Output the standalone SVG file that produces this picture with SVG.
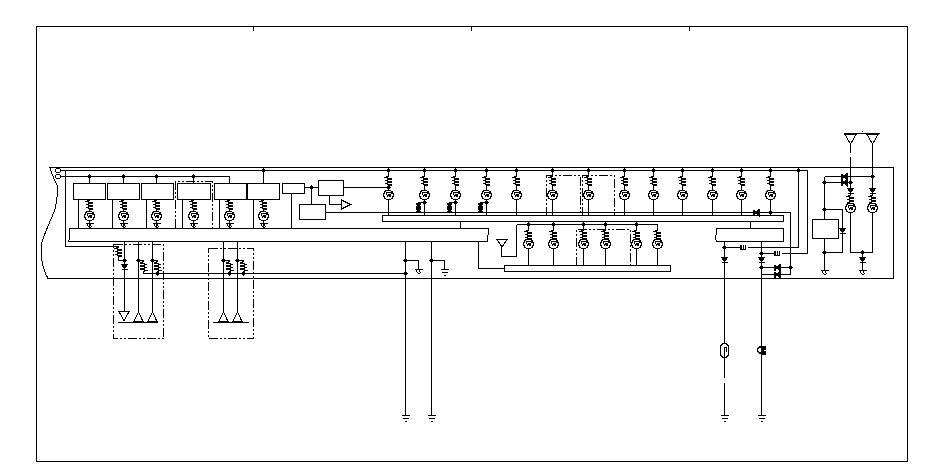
<svg xmlns="http://www.w3.org/2000/svg" width="950" height="475" viewBox="0 0 950 475">
<style>
svg{background:#fff}
path,rect,circle{fill:none;stroke:#000;stroke-width:1;shape-rendering:crispEdges}
.k{fill:#000}
.w{fill:#fff}
.n{fill:#fff;stroke:none}
.b{stroke-width:1.4}
.dd{stroke-dasharray:9 2 2 2 2 2}
</style>
<defs>
<g id="q"><circle r="4.800" class="w b"/><path d="M-3-2.500H3M-2-2L-1 1.500L0.500-1L1.500 1.500L3-2"/></g>
<g id="c"><rect class="n" x="-4" y="-5" width="8" height="10"/><path d="M0-5L-3-3.500L3-2L-3-0.500L3 1L-3 2.500L3 4L0 5"/></g>
<g id="dv"><path class="k" d="M-3-2.500H3L0 2Z"/><path class="b" d="M-3 2.500H3"/></g>
<g id="db"><path class="k" d="M-2-4.500H2L1-1H2V2H1L2 4.500H-2L-1 2H-2V-1H-1Z"/></g>
<g id="dl"><path class="k" d="M2.500-3V3L-1.500 0Z"/><path class="b" d="M-2.500-3V3"/></g>
<g id="g"><path d="M-4 0H4M-3 3H3M-1 6H1"/></g>
<g id="t"><path d="M-4 0H4M-3 0L-1 4M0 0L2 4M-1 4H1"/></g>
<circle id="d" r="1.600" class="k"/>
<g id="rh"><rect class="n" x="-4" y="-1" width="8" height="2"/><path d="M-3.500-2.500V1.500H-2M-2-2.500V1.500H0M0-2.500V1.500H2M2-2.500V1.500"/></g>
</defs>
<g id="frame">
<rect x="36.500" y="26.500" width="871" height="435"/>
<path d="M253.500 26V31M471.500 26V31M689.500 26V31"/>
<path d="M50 167.500H893.500V278.500H48C44 272 41 260 41 247C42 238 50 222 54 212C57 204 58 190 57 185C54 180 52 174 50 167.500Z"/>
<circle cx="58" cy="170.500" r="2.500"/><circle cx="58" cy="176.500" r="2.500"/>
</g>
<g id="connectors">
<path d="M61 170.500H807.500V253.500H761.500M61 176.500H229.500V183"/>
<path d="M65.500 170.500V246.500H118.500V260.500H124.500"/>
<path d="M89.500 176.500V183M123.500 176.500V183M156.500 176.500V183M193.500 176.500V183M263.500 170.500V183"/>
<path d="M78.500 199V228M112.500 199V228M146.500 199V228M182.500 199V228M219.500 199V228M253.500 199V228"/>
<path d="M89.500 199V228M123.500 199V228M156.500 199V228M193.500 199V228M229.500 199V228M263.500 199V228"/>
<path d="M291.500 193V228M304 187.500H318M311.500 187.500V204M343 187.500H388.500M329.500 195V204.500H341M325 212.500H790.500V274.500H761.500M761.500 267.500H790.500"/>
<path d="M388.500 170.500V215M424.500 170.500V215M455.500 170.500V215M486.500 170.500V215M516.500 170.500V215M552.500 170.500V215M588.500 170.500V215M624.500 170.500V215M653.500 170.500V215M682.500 170.500V215M712.500 170.500V215M741.500 170.500V215M770.500 170.500V212"/>
<path d="M424.500 202.500H418.500V212M455.500 202.500H449.500V212M486.500 202.500H480.500V212"/>
<path d="M460.500 222V228M750.500 222V228M478.500 241V268.500H504"/>
<path d="M657.500 224.500V265M516.500 224.500H657.500M516.500 224.500V256.500H501.500V247M528.500 224.500V265M553.500 224.500V265M583.500 224.500V265M605.500 224.500V265M636.500 224.500V265"/>
<path d="M798.500 170.500V247.500H724.500M724.500 241V378M724.500 383V415M761.500 241V415"/>
<path d="M405.500 241V415M431.500 241V415M405.500 260.500H418.500V269M431.500 260.500H444.500V269M143.500 273.500H405.500"/>
<path d="M124.500 241V311M138.500 241V311M152.500 241V311M138.500 260.500H143.500V273.500M152.500 260.500H157.500V273.500M223.500 241V311M237.500 241V311M223.500 260.500H229.500V273.500M237.500 260.500H243.500V273.500"/>
<path d="M824.500 176.500V219M824.500 238V270M824.500 176.500H872.500M824.500 182.500H850.500M824.500 209.500H842.500V252.500H824.500"/>
<path d="M850.500 144V153M850.500 157V252.500H872.500V144M862.500 252.500V270"/>
<path d="M118 322.500H158M213 322.500H249M844 133.500H880M862 131.500H863"/>
<path class="dd" d="M175.500 228V181.500H212.500V228H175.500Z"/>
<path class="dd" d="M546.500 216V175.500H580.500V216H546.500Z"/>
<path class="dd" d="M582.500 216V175.500H614.500V216H582.500Z"/>
<path class="dd" d="M576.500 266V229.500H630.500V266H576.500Z"/>
<path class="dd" d="M113.500 244.500H163.500V338.500H113.500Z"/>
<path class="dd" d="M208.500 248.500H253.500V338.500H208.500Z"/>
</g>
<g id="bus-main"><path class="w" d="M69.500 228.500H488.500L489 233L487 237L487.500 241.500H68.500L69.500 238Z"/></g>
<g id="bus-main-r"><path class="w" d="M716.500 228.500H783.500V241.500H717L715 238L717 232Z"/></g>
<rect id="bus-top" class="w" x="382.500" y="215.500" width="401" height="6"/>
<rect id="bus-low" class="w" x="504.500" y="265.500" width="166" height="6"/>
<g id="box-1"><rect class="w" x="73.500" y="183.500" width="32" height="16"/><use href="#d" x="89.500" y="176.500"/></g>
<g id="box-2"><rect class="w" x="107.500" y="183.500" width="32" height="16"/><use href="#d" x="123.500" y="176.500"/></g>
<g id="box-3"><rect class="w" x="141.500" y="183.500" width="32" height="16"/><use href="#d" x="156.500" y="176.500"/></g>
<g id="box-4"><rect class="w" x="177.500" y="183.500" width="33" height="16"/><use href="#d" x="193.500" y="176.500"/></g>
<g id="box-5"><rect class="w" x="214.500" y="183.500" width="32" height="16"/></g>
<g id="box-6"><rect class="w" x="247.500" y="183.500" width="32" height="16"/><use href="#d" x="263.500" y="170.500"/></g>
<g id="box-a"><rect class="w" x="282.500" y="183.500" width="22" height="10"/></g>
<g id="box-b"><rect class="w" x="318.500" y="180.500" width="25" height="15"/><use href="#d" x="311.500" y="187.500"/></g>
<g id="box-c"><rect class="w" x="299.500" y="204.500" width="26" height="15"/></g>
<path id="amp" class="w" d="M341.500 200L350.500 204.500L341.500 209Z"/>
<g id="box-r"><rect class="w" x="812.500" y="219.500" width="26" height="19"/></g>
<g id="left-row">
<use href="#c" x="89.500" y="205"/><use href="#q" x="89.500" y="216"/><use href="#t" x="89.500" y="223"/>
<use href="#c" x="123.500" y="205"/><use href="#q" x="123.500" y="216"/><use href="#t" x="123.500" y="223"/>
<use href="#c" x="156.500" y="205"/><use href="#q" x="156.500" y="216"/><use href="#t" x="156.500" y="223"/>
<use href="#c" x="193.500" y="205"/><use href="#q" x="193.500" y="216"/><use href="#t" x="193.500" y="223"/>
<use href="#c" x="229.500" y="205"/><use href="#q" x="229.500" y="216"/><use href="#t" x="229.500" y="223"/>
<use href="#c" x="263.500" y="205"/><use href="#q" x="263.500" y="216"/><use href="#t" x="263.500" y="223"/>
</g>
<g id="top-row">
<use href="#d" x="388.500" y="170.500"/><use href="#c" x="388.500" y="181"/><use href="#d" x="388.500" y="187.500"/><use href="#q" x="388.500" y="195"/>
<use href="#d" x="424.500" y="170.500"/><use href="#c" x="424.500" y="181"/><use href="#q" x="424.500" y="195"/><use href="#d" x="424.500" y="202.500"/><use href="#db" x="418.500" y="207.500"/>
<use href="#d" x="455.500" y="170.500"/><use href="#c" x="455.500" y="181"/><use href="#q" x="455.500" y="195"/><use href="#d" x="455.500" y="202.500"/><use href="#db" x="449.500" y="207.500"/>
<use href="#d" x="486.500" y="170.500"/><use href="#c" x="486.500" y="181"/><use href="#q" x="486.500" y="195"/><use href="#d" x="486.500" y="202.500"/><use href="#db" x="480.500" y="207.500"/>
<use href="#d" x="516.500" y="170.500"/><use href="#c" x="516.500" y="181"/><use href="#q" x="516.500" y="195"/>
<use href="#d" x="552.500" y="170.500"/><use href="#c" x="552.500" y="181"/><use href="#q" x="552.500" y="195"/>
<use href="#d" x="588.500" y="170.500"/><use href="#c" x="588.500" y="181"/><use href="#q" x="588.500" y="195"/>
<use href="#d" x="624.500" y="170.500"/><use href="#c" x="624.500" y="181"/><use href="#q" x="624.500" y="195"/>
<use href="#d" x="653.500" y="170.500"/><use href="#c" x="653.500" y="181"/><use href="#q" x="653.500" y="195"/>
<use href="#d" x="682.500" y="170.500"/><use href="#c" x="682.500" y="181"/><use href="#q" x="682.500" y="195"/>
<use href="#d" x="712.500" y="170.500"/><use href="#c" x="712.500" y="181"/><use href="#q" x="712.500" y="195"/>
<use href="#d" x="741.500" y="170.500"/><use href="#c" x="741.500" y="181"/><use href="#q" x="741.500" y="195"/>
<use href="#d" x="770.500" y="170.500"/><use href="#c" x="770.500" y="181"/><use href="#q" x="770.500" y="195"/><use href="#d" x="770.500" y="212.500"/>
<use href="#dl" x="756.500" y="212.500"/>
</g>
<g id="low-row">
<path class="w" d="M497 239.500H507L502 247Z"/>
<use href="#d" x="528.500" y="224.500"/><use href="#c" x="528.500" y="235"/><use href="#q" x="528.500" y="244"/>
<use href="#d" x="553.500" y="224.500"/><use href="#c" x="553.500" y="235"/><use href="#q" x="553.500" y="244"/>
<use href="#d" x="583.500" y="224.500"/><use href="#c" x="583.500" y="235"/><use href="#q" x="583.500" y="244"/>
<use href="#d" x="605.500" y="224.500"/><use href="#c" x="605.500" y="235"/><use href="#q" x="605.500" y="244"/>
<use href="#d" x="636.500" y="224.500"/><use href="#c" x="636.500" y="235"/><use href="#q" x="636.500" y="244"/>
<use href="#c" x="657.500" y="235"/><use href="#q" x="657.500" y="244"/>
</g>
<g id="right-lower">
<use href="#d" x="798.500" y="170.500"/>
<use href="#d" x="724.500" y="247.500"/><use href="#rh" x="743.500" y="247.500"/><use href="#d" x="761.500" y="253.500"/><use href="#rh" x="777.500" y="253.500"/>
<use href="#dv" x="724.500" y="260"/><use href="#dv" x="761.500" y="260"/>
<use href="#d" x="761.500" y="267.500"/><use href="#d" x="790.500" y="267.500"/>
<use href="#dl" x="777.500" y="267.500"/><use href="#dl" x="777.500" y="274.500"/>
<rect class="w b" x="720.500" y="343.500" width="8" height="14" rx="4"/><path d="M724.500 358V347H726.500V352"/>
<circle class="w b" cx="760.500" cy="350" r="3"/><path class="k" d="M761.500 346H765.500V349H763.500V351H765.500V354H761.500Z"/>
<use href="#g" x="724.500" y="415"/><use href="#g" x="761.500" y="415"/>
</g>
<g id="grounds">
<use href="#d" x="405.500" y="260.500"/><use href="#d" x="431.500" y="260.500"/><use href="#d" x="405.500" y="273.500"/>
<use href="#t" x="418.500" y="269"/><use href="#g" x="444.500" y="269"/>
<use href="#g" x="405.500" y="415"/><use href="#g" x="431.500" y="415"/>
</g>
<g id="lower-a">
<use href="#c" x="118.500" y="252"/><use href="#d" x="124.500" y="260.500"/><use href="#dv" x="124.500" y="267"/>
<use href="#d" x="138.500" y="260.500"/><use href="#d" x="152.500" y="260.500"/><use href="#c" x="143.500" y="266.500"/><use href="#c" x="157.500" y="266.500"/><use href="#d" x="157.500" y="273.500"/>
<path class="w" d="M119 311.500H129L124 321Z"/><path class="w" d="M134 321.500H143L138.500 312Z"/><path class="w" d="M148 321.500H157L152.500 312Z"/>
</g>
<g id="lower-b">
<use href="#d" x="223.500" y="260.500"/><use href="#d" x="237.500" y="260.500"/><use href="#c" x="229.500" y="266.500"/><use href="#c" x="243.500" y="266.500"/><use href="#d" x="229.500" y="273.500"/><use href="#d" x="243.500" y="273.500"/>
<path class="w" d="M219 321.500H228L223.500 312Z"/><path class="w" d="M233 321.500H242L237.500 312Z"/>
</g>
<g id="right-unit">
<use href="#d" x="824.500" y="182.500"/><use href="#d" x="824.500" y="209.500"/><use href="#d" x="824.500" y="252.500"/><use href="#d" x="850.500" y="182.500"/><use href="#d" x="872.500" y="176.500"/><use href="#d" x="862.500" y="252.500"/>
<use href="#dl" x="844.500" y="176.500"/><use href="#dl" x="844.500" y="182.500"/>
<use href="#dv" x="842.500" y="231"/>
<use href="#t" x="824.500" y="270"/><use href="#t" x="862.500" y="270"/><use href="#dv" x="862.500" y="260"/>
<use href="#dv" x="850.500" y="191"/><use href="#c" x="850.500" y="200"/><use href="#q" x="850.500" y="208"/>
<use href="#dv" x="872.500" y="191"/><use href="#c" x="872.500" y="200"/><use href="#q" x="872.500" y="208"/>
<path class="w" d="M845 134.500H856L850.500 144Z"/><path class="w" d="M867 134.500H878L872.500 144Z"/>
</g>
</svg>
